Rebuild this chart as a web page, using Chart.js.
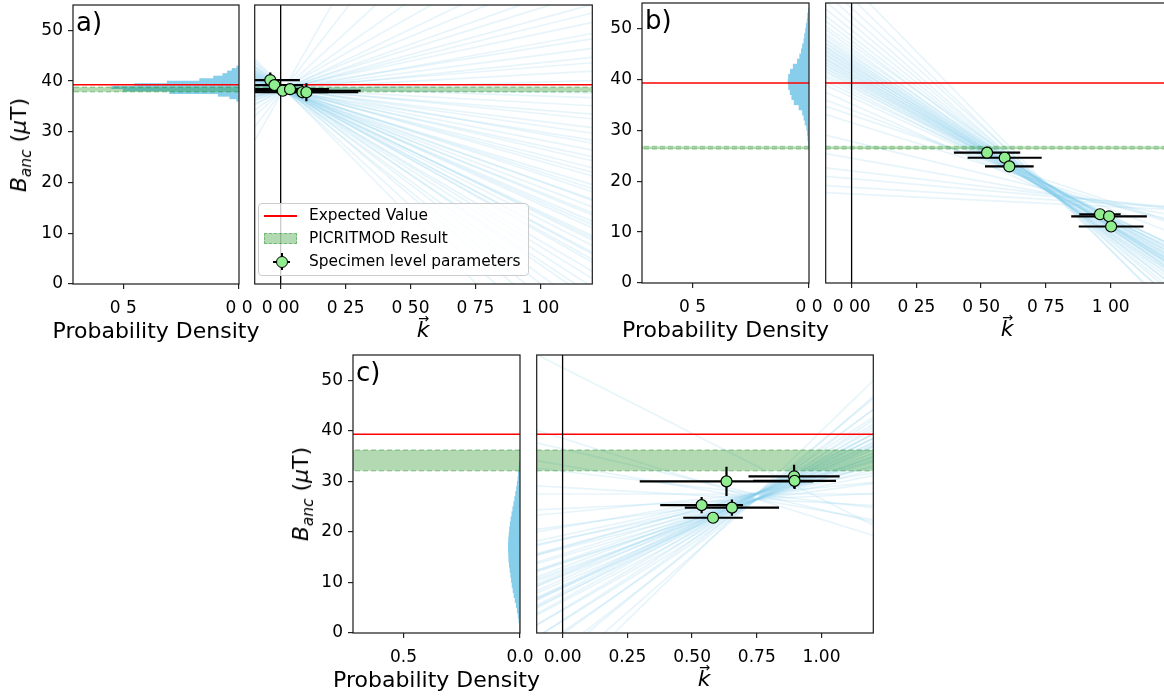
<!DOCTYPE html>
<html>
<head>
<meta charset="utf-8">
<script src="https://cdn.jsdelivr.net/npm/chart.js@4.4.1/dist/chart.umd.min.js"></script>
<style>
  body { margin: 0; width: 1164px; height: 696px; overflow: hidden; background: #fff; position: relative;
         font-family: 'DejaVu Sans', sans-serif; color: #000; }
  canvas { position: absolute; }
  .t { position: absolute; line-height: 1; white-space: nowrap; transform: translate(-50%, -50%); }
  .l { position: absolute; line-height: 1; white-space: nowrap; }
  .sub { font-size: 0.7em; font-style: italic; position: relative; top: 0.3em; }
</style>
</head>
<body>
<script>
// ---- ticks ----
const kTicks = [0, 0.25, 0.5, 0.75, 1.0];
const kTickLabelsAB = ['0 00', '0 25', '0 50', '0 75', '1 00'];
const kTickLabelsC = ['0.00', '0.25', '0.50', '0.75', '1.00'];
const densTicks = [0, 0.5];
const densTickLabelsAB = ['0 0', '0 5'];
const densTickLabelsC = ['0.0', '0.5'];
const bTicks = [0, 10, 20, 30, 40, 50];
const bTickLabels = ['0', '10', '20', '30', '40', '50'];

const expectedValue = 39.3;

// ---- panel a ----
const aK = [-0.04, -0.024, 0.008, 0.036, 0.084, 0.099];
const aB = [40.2, 39.2, 38.1, 38.4, 37.8, 37.8];
const aKErr = [0.114, 0.11, 0.3, 0.15, 0.1, 0.2];
const aBErr = [1.5, 0.6, 0.5, 0.5, 1.2, 1.75];
const aBand = [37.9, 38.8];
const aHistCenters = [36.25, 36.75, 37.25, 37.75, 38.25, 38.75, 39.25, 39.75, 40.25, 40.75, 41.25, 41.75, 42.25, 42.75];
const aHistDensity = [0.01, 0.04, 0.09, 0.3, 0.5, 0.55, 0.45, 0.31, 0.17, 0.11, 0.07, 0.05, 0.03, 0.01];
const aLineIntercepts = [39.2, 38.9, 39.4, 38.7, 39.1, 38.8, 39.3, 38.6, 39.0, 38.9,
  38.5, 39.1, 38.7, 38.9, 38.4, 38.8, 39.0, 38.6, 38.3, 38.9,
  38.7, 38.5, 38.8, 38.4, 38.6, 38.9, 38.3, 38.7, 38.5, 38.2,
  38.8, 38.6, 38.4, 38.7, 38.3, 38.5, 38.9, 38.2, 38.6, 38.4,
  38.7, 38.3, 38.5, 38.8, 38.4, 38.6, 38.2, 38.5, 38.7, 38.3,
  38.4, 38.6, 38.1, 38.5, 38.3, 38.2, 38.4, 38.1, 38.3, 38.0,
  38.2, 37.9, 37.8, 37.6, 37.3];
const aLineSlopes = [-52, -47, -44, -41, -39, -37, -35.5, -34, -33, -31.5,
  -30, -29, -28.2, -27.5, -26.8, -26, -25.3, -24.6, -24, -23.2,
  -22.5, -21.8, -21, -20.3, -19.5, -18.7, -18, -17.1, -16.4, -15.5,
  -14.6, -13.8, -12.9, -12, -11, -10.1, -9.3, -8.2, -7.4, -6.3,
  -5.1, -4, -2.8, -1.7, -0.6, 0.5, 1.6, 2.9, 4.1, 5.3,
  6.7, 8.1, 9.4, 10.9, 12.6, 14.1, 16, 18.3, 21, 24.5,
  29, 36, 47, 66, 90];

// ---- panel b ----
const bK = [0.523, 0.591, 0.609, 0.959, 0.994, 1.002];
const bB = [25.6, 24.6, 22.9, 13.5, 13.1, 11.1];
const bKErr = [0.128, 0.143, 0.094, 0.08, 0.146, 0.125];
const bBErr = [0.9, 0.8, 0.4, 0.4, 0.4, 0.4];
const bBand = [26.3, 26.8];
const bHistCenters = [27.5, 28.5, 29.5, 30.5, 31.5, 32.5, 33.5, 34.5, 35.5, 36.5, 37.5, 38.5, 39.5, 40.5,
  41.5, 42.5, 43.5, 44.5, 45.5, 46.5, 47.5, 48.5, 49.5, 50.5, 51.5, 52.5, 53.5];
const bHistDensity = [0.003, 0.005, 0.007, 0.01, 0.017, 0.022, 0.028, 0.043, 0.064, 0.074, 0.081, 0.088, 0.09, 0.088,
  0.08, 0.068, 0.05, 0.04, 0.033, 0.028, 0.022, 0.019, 0.015, 0.012, 0.008, 0.006, 0.003];
const bLineIntercepts = [36.5, 37.2, 37.8, 38.3, 38.7, 39.0, 39.3, 39.6, 39.9, 40.1,
  40.4, 40.6, 40.9, 41.1, 41.3, 41.6, 41.8, 42.0, 42.3, 42.5,
  42.8, 43.0, 43.3, 43.6, 43.9, 44.2, 44.6, 45.0, 45.5, 46.1,
  46.8, 47.6, 48.5, 49.7, 51.0, 52.4, 54.0, 56.0, 58.5,
  34.0, 35.2, 33.0, 31.5, 22.0, 20.5, 18.8, 24.5, 17.5, 27.8];
const bLineSlopes = [-23.5, -24.0, -25.8, -25.0, -27.1, -26.2, -27.9, -26.8, -28.6, -27.4,
  -29.3, -28.1, -30.2, -28.7, -30.0, -31.1, -29.6, -30.9, -32.0, -30.4,
  -31.8, -33.1, -31.6, -33.7, -32.5, -34.6, -33.4, -35.5, -34.8, -36.9,
  -36.0, -38.7, -39.5, -41.2, -42.8, -44.9, -46.3, -49.5, -52.0,
  -19.5, -22.8, -17.0, -16.0, -6.0, -4.5, -3.2, -9.0, -2.5, -12.5];

// ---- panel c ----
const cK = [0.633, 0.894, 0.896, 0.537, 0.654, 0.581];
const cB = [30.0, 31.0, 30.1, 25.3, 24.8, 22.8];
const cKErr = [0.335, 0.176, 0.16, 0.16, 0.182, 0.115];
const cBErr = [2.9, 2.3, 1.6, 1.6, 1.6, 0.5];
const cBand = [32.1, 36.2];
const cHistCenters = [0.5, 1.5, 2.5, 3.5, 4.5, 5.5, 6.5, 7.5, 8.5, 9.5, 10.5, 11.5, 12.5, 13.5, 14.5, 15.5, 16.5,
  17.5, 18.5, 19.5, 20.5, 21.5, 22.5, 23.5, 24.5, 25.5, 26.5, 27.5, 28.5, 29.5, 30.5, 31.5, 32.5, 33.5];
const cHistDensity = [0.001, 0.003, 0.005, 0.008, 0.012, 0.016, 0.021, 0.026, 0.03, 0.034, 0.037, 0.04, 0.043, 0.046, 0.048, 0.049, 0.05,
  0.05, 0.049, 0.047, 0.045, 0.042, 0.039, 0.035, 0.031, 0.027, 0.023, 0.019, 0.015, 0.012, 0.009, 0.007, 0.004, 0.002];
const cLineIntercepts = [38.5, 36.4, 33.2, 32.0, 28.8, 27.5, 24.6, 23.8, 21.2, 20.9,
  18.6, 18.5, 16.7, 17.1, 15.2, 15.6, 13.8, 14.2, 12.5, 13.0,
  11.3, 11.8, 10.1, 10.6, 8.9, 9.4, 7.7, 8.1, 6.2, 6.6,
  4.5, 4.7, 2.4, 2.5, 0.2, -0.2, -3.1, -4.0, -7.2, -10.0,
  16.9, 12.2, 11.5, 9.2, 9.0, 14.0, 19.3, 7.6, 52.5];
const cLineSlopes = [-16, -12, -9, -6, -3, 0, 2.5, 5, 7, 9,
  10.5, 12, 13, 14, 15, 16, 17, 17.8, 18.6, 19.4,
  20.2, 21, 21.8, 22.6, 23.4, 24.2, 25, 26, 27, 28,
  29.2, 30.5, 32, 33.5, 35, 37, 39.5, 42, 45, 50,
  14.5, 19, 21.5, 23, 24.6, 16.5, 11.2, 26.5, -26];

// ---------------------------------------------------------------
Chart.defaults.font.family = "'DejaVu Sans', sans-serif";
Chart.defaults.color = '#000';

const frame = {
  id: 'frame',
  afterDatasetsDraw(chart) {
    const { ctx, chartArea: a } = chart;
    ctx.save();
    ctx.strokeStyle = '#1a1a1a';
    ctx.lineWidth = 1.2;
    ctx.strokeRect(a.left, a.top, a.right - a.left, a.bottom - a.top);
    ctx.restore();
  }
};

function addCanvas(left, top, w, h) {
  const c = document.createElement('canvas');
  c.width = w; c.height = h;
  c.style.left = left + 'px'; c.style.top = top + 'px';
  c.style.width = w + 'px'; c.style.height = h + 'px';
  document.body.appendChild(c);
  return c;
}

function seg(x0, y0, x1, y1, color, width, order, dash) {
  return { type: 'line', showLine: true, data: [{ x: x0, y: y0 }, { x: x1, y: y1 }],
    borderColor: color, borderWidth: width, borderDash: dash || [], pointRadius: 0,
    fill: false, order: order, clip: 0 };
}

function bandSets(x0, x1, band) {
  const g = 'rgba(0,128,0,0.3)';
  const lo = seg(x0, band[0], x1, band[0], g, 1.5, 7, [5, 3]);
  const hi = seg(x0, band[1], x1, band[1], g, 1.5, 7, [5, 3]);
  hi.fill = '-1';
  hi.backgroundColor = g;
  return [lo, hi];
}

const tickGrid = { display: true, drawOnChartArea: false, drawTicks: true, tickLength: 5, color: '#222', lineWidth: 1.2, offset: false };

function xAxis(min, max, reverse, ticks, labels) {
  return {
    type: 'linear', min: min, max: max, reverse: reverse, offset: false,
    afterBuildTicks: s => { s.ticks = ticks.map(v => ({ value: v })); },
    afterFit: s => { s.height = 36; },
    ticks: { callback: (v, i) => labels[i], font: { size: 17 }, padding: 9, maxRotation: 0, autoSkip: false },
    grid: tickGrid,
    border: { display: false }
  };
}

const baseOpts = {
  responsive: false, animation: false, events: [],
  plugins: { legend: { display: false }, tooltip: { enabled: false } }
};

function histChart(p) {
  const yW = 45, padT = 20, padR = 22, xH = 36;
  const c = addCanvas(p.hl - yW, p.t - padT, yW + (p.hr - p.hl) + padR, padT + (p.b - p.t) + xH);
  const bars = {
    type: 'bar', indexAxis: 'y',
    data: p.centers.map((v, i) => ({ x: p.density[i], y: v })),
    backgroundColor: '#87ceeb', borderWidth: 0, barPercentage: 1, categoryPercentage: 1, order: 10
  };
  new Chart(c, {
    type: 'scatter',
    data: { datasets: [bars, ...bandSets(0, 1, p.band), seg(0, expectedValue, 1, expectedValue, '#ff0000', 1.5, 6)] },
    options: Object.assign({}, baseOpts, {
      layout: { padding: { left: 0, top: padT, right: padR, bottom: 0 } },
      scales: {
        x: xAxis(0, 0.717, true, densTicks, p.densLabels),
        y: {
          type: 'linear', min: 0, max: 55, offset: false,
          afterBuildTicks: s => { s.ticks = bTicks.map(v => ({ value: v })); },
          afterFit: s => { s.width = yW; },
          ticks: { callback: (v, i) => bTickLabels[i], font: { size: 17 }, padding: 5, autoSkip: false },
          grid: tickGrid, border: { display: false }
        }
      }
    }),
    plugins: [frame]
  });
}

function kChart(p) {
  const padL = 2, padT = 8, padR = 2, xH = 36;
  const c = addCanvas(p.kl - padL, p.t - padT, padL + (p.kr - p.kl) + padR, padT + (p.b - p.t) + xH);
  const sets = [];
  const n = Math.min(p.intercepts.length, p.slopes.length);
  for (let i = 0; i < n; i++) {
    const b0 = p.intercepts[i], s = p.slopes[i];
    sets.push(seg(p.kMin, b0 + s * p.kMin, p.kMax, b0 + s * p.kMax, 'rgba(135,206,235,0.2)', 1.7, 9));
  }
  sets.push(...bandSets(p.kMin, p.kMax, p.band));
  sets.push(seg(p.kMin, expectedValue, p.kMax, expectedValue, '#ff0000', 1.5, 6));
  sets.push(seg(0, 0, 0, 55, '#000', 1.3, 5));
  p.k.forEach((k, i) => {
    sets.push(seg(k - p.kErr[i], p.B[i], k + p.kErr[i], p.B[i], '#000', 2.2, 2));
    sets.push(seg(k, p.B[i] - p.BErr[i], k, p.B[i] + p.BErr[i], '#000', 2.2, 2));
  });
  sets.push({
    type: 'scatter', data: p.k.map((k, i) => ({ x: k, y: p.B[i] })),
    pointRadius: 5.5, pointBackgroundColor: '#90ee90', pointBorderColor: '#000', pointBorderWidth: 1.2,
    order: 1, clip: 0
  });
  new Chart(c, {
    type: 'scatter',
    data: { datasets: sets },
    options: Object.assign({}, baseOpts, {
      layout: { padding: { left: padL, top: padT, right: padR, bottom: 0 } },
      scales: {
        x: xAxis(p.kMin, p.kMax, false, kTicks, p.kLabels),
        y: { type: 'linear', min: 0, max: 55, display: false, offset: false }
      }
    }),
    plugins: [frame]
  });
}

function text(html, x, y, size, rot) {
  const d = document.createElement('div');
  d.className = 't';
  d.style.left = x + 'px'; d.style.top = y + 'px'; d.style.fontSize = size + 'px';
  if (rot) d.style.transform = 'translate(-50%,-50%) rotate(' + rot + 'deg)';
  d.innerHTML = html;
  document.body.appendChild(d);
  return d;
}
function corner(str, x, y, size) {
  const d = document.createElement('div');
  d.className = 'l';
  d.style.left = x + 'px'; d.style.top = y + 'px'; d.style.fontSize = size + 'px';
  d.textContent = str;
  document.body.appendChild(d);
}

const yLabelHtml = '<i>B</i><span class="sub">anc</span> (<i>μ</i>T)';
const kLabelHtml = '<span style="position:relative;display:inline-block"><i>k</i>' +
  '<span style="position:absolute;left:0.1em;top:-0.5em;font-size:0.6em">→</span></span>';

function panel(p) {
  histChart(p);
  kChart(p);
  text('Probability Density', (p.hl + p.hr) / 2, p.b + 47, 22);
  text(kLabelHtml, p.kLabelX, p.b + 46, 22);
  if (p.yLabelX) text(yLabelHtml, p.yLabelX, (p.t + p.b) / 2, 22, -90);
  corner(p.letter, p.hl + 3, p.t + 4, 26);
}

panel({ letter: 'a)', hl: 73, hr: 239, kl: 250, kr: 597, t: 5, b: 284, kMin: -0.1, kMax: 1.2,
  kLabelX: 423, yLabelX: 19, kLabels: kTickLabelsAB, densLabels: densTickLabelsAB,
  centers: aHistCenters, density: aHistDensity, band: aBand,
  intercepts: aLineIntercepts, slopes: aLineSlopes, k: aK, B: aB, kErr: aKErr, BErr: aBErr });

panel({ letter: 'b)', hl: 642, hr: 809, kl: 821, kr: 1193, t: 3, b: 283, kMin: -0.1, kMax: 1.3,
  kLabelX: 1007, yLabelX: 0, kLabels: kTickLabelsAB, densLabels: densTickLabelsAB,
  centers: bHistCenters, density: bHistDensity, band: bBand,
  intercepts: bLineIntercepts, slopes: bLineSlopes, k: bK, B: bB, kErr: bKErr, BErr: bBErr });

panel({ letter: 'c)', hl: 353, hr: 520, kl: 532, kr: 878, t: 355, b: 633, kMin: -0.1, kMax: 1.2,
  kLabelX: 704, yLabelX: 301, kLabels: kTickLabelsC, densLabels: densTickLabelsC,
  centers: cHistCenters, density: cHistDensity, band: cBand,
  intercepts: cLineIntercepts, slopes: cLineSlopes, k: cK, B: cB, kErr: cKErr, BErr: cBErr });

// legend of panel a
(function () {
  const box = document.createElement('div');
  box.style.cssText = 'position:absolute;left:258px;top:203px;width:271px;height:73px;' +
    'background:rgba(255,255,255,0.8);border:1px solid #ccc;border-radius:4px;box-sizing:border-box;';
  document.body.appendChild(box);
  const add = css => { const d = document.createElement('div'); d.style.cssText = 'position:absolute;' + css; document.body.appendChild(d); };
  add('left:264px;top:215px;width:33px;height:1.5px;background:#ff0000;');
  add('left:264px;top:233px;width:33px;height:11px;box-sizing:border-box;background:rgba(0,128,0,0.3);border:1.5px dashed rgba(0,128,0,0.35);');
  add('left:273px;top:260.5px;width:17px;height:2px;background:#000;');
  add('left:280.5px;top:253px;width:2px;height:17px;background:#000;');
  add('left:275.5px;top:255.5px;width:12px;height:12px;box-sizing:border-box;border-radius:50%;background:#90ee90;border:1.2px solid #000;');
  const entries = ['Expected Value', 'PICRITMOD Result', 'Specimen level parameters'];
  const ys = [216, 238.5, 261.5];
  entries.forEach((s, i) => {
    const d = document.createElement('div');
    d.className = 'l';
    d.style.cssText += 'left:309px;font-size:15.4px;';
    d.style.top = (ys[i] - 7.7) + 'px';
    d.textContent = s;
    document.body.appendChild(d);
  });
})();
</script>
</body>
</html>
